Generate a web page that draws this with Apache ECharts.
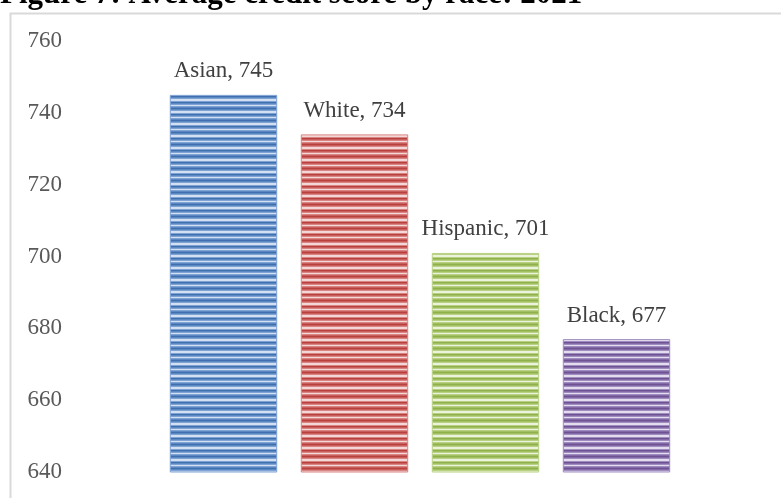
<!DOCTYPE html>
<html>
<head>
<meta charset="utf-8">
<script src="https://cdn.jsdelivr.net/npm/echarts@6/dist/echarts.min.js"></script>
<style>
html,body{margin:0;padding:0;background:#fff;}
#c{width:781px;height:498px;}
</style>
</head>
<body>
<div id="c"></div>
<script>
var titleText = 'Figure 7: Average credit score by race: 2021';
var categories = ['Asian', 'White', 'Hispanic', 'Black'];
var scores = [745, 734, 701, 677];
var yTicks = [640, 660, 680, 700, 720, 740, 760];

var palettes = [
  ['#3f6fae', '#7fa3d4', '#d3e0f2', '#5a86c2'],
  ['#b8413e', '#d98583', '#f4d8d7', '#c85e5b'],
  ['#8fb04a', '#b9d184', '#ebf3dc', '#a0c062'],
  ['#6e5393', '#a08dbf', '#e4ddef', '#8468a8']
];
function makePattern(p) {
  var cv = document.createElement('canvas');
  cv.width = 8; cv.height = 12;
  var ctx = cv.getContext('2d');
  var rows = [p[0], p[3], p[1], p[2], p[2], p[1], p[0], p[3], p[1], p[2], p[1], p[3]];
  for (var i = 0; i < rows.length; i++) {
    ctx.fillStyle = rows[i];
    ctx.fillRect(0, i, 8, 1);
  }
  return {image: cv, repeat: 'repeat'};
}

var chart = echarts.init(document.getElementById('c'));
var serif = '"Liberation Serif", "Times New Roman", serif';
chart.setOption({
  animation: false,
  backgroundColor: '#fff',
  title: {
    text: titleText,
    left: -5,
    top: -26,
    textStyle: {fontFamily: serif, fontWeight: 'bold', fontSize: 31, color: '#000'}
  },
  graphic: [{
    type: 'rect',
    left: 8, top: 11,
    shape: {width: 800, height: 520},
    style: {fill: 'none', stroke: '#d9d9d9', lineWidth: 2},
    z: -1
  }],
  grid: {left: 158, right: 99, top: 41, bottom: 26},
  xAxis: {
    type: 'category',
    data: categories,
    axisLine: {show: false},
    axisTick: {show: false},
    axisLabel: {show: false}
  },
  yAxis: {
    type: 'value',
    min: yTicks[0],
    max: yTicks[yTicks.length - 1],
    interval: 20,
    axisLine: {show: false},
    axisTick: {show: false},
    splitLine: {show: false},
    axisLabel: {
      margin: 96,
      fontFamily: serif,
      fontSize: 23,
      color: '#595959'
    }
  },
  series: [{
    type: 'bar',
    barCategoryGap: '18%',
    data: scores.map(function (v, i) {
      return {
        value: v,
        itemStyle: {color: makePattern(palettes[i]), borderColor: palettes[i][1], borderWidth: 1}
      };
    }),
    label: {
      show: true,
      position: 'top',
      distance: 12,
      formatter: '{b}, {c}',
      fontFamily: serif,
      fontSize: 23,
      color: '#404040'
    }
  }]
});
</script>
</body>
</html>
